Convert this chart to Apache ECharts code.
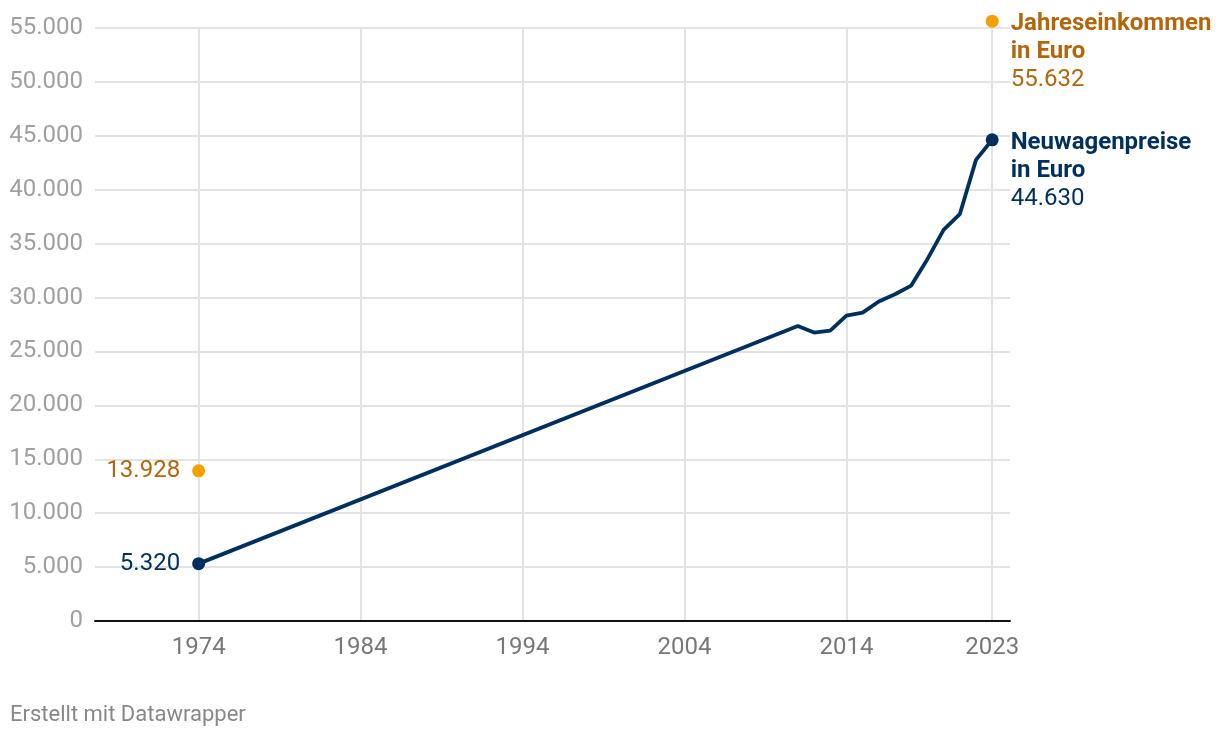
<!DOCTYPE html>
<html>
<head>
<meta charset="utf-8">
<script src="https://cdn.jsdelivr.net/npm/echarts@6/dist/echarts.min.js"></script>
<style>
html,body{margin:0;padding:0;background:#fff;}
#chart{width:1220px;height:738px;}
</style>
</head>
<body>
<div id="chart"></div>
<script>
const carYears = [1974, 2011, 2012, 2013, 2014, 2015, 2016, 2017, 2018, 2019, 2020, 2021, 2022, 2023];
const carPrices = [5320, 27370, 26750, 26940, 28330, 28600, 29630, 30310, 31110, 33560, 36280, 37730, 42770, 44630];
const incomeYears = [1974, 2023];
const incomeValues = [13928, 55632];
const xTickYears = [1974, 1984, 1994, 2004, 2014, 2023];
const carName = 'Neuwagenpreise';
const incomeName = 'Jahreseinkommen';

const NAVY = '#00305f';
const ORANGE_DOT = '#f5a000';
const ORANGE_TXT = '#b3660a';
const FONT = 'Roboto';

function fmt(v){ return String(v).replace(/\B(?=(\d{3})+(?!\d))/g, '.'); }

const chart = echarts.init(document.getElementById('chart'), null, {renderer:'canvas'});

const carData = carYears.map((y,i)=>[y, carPrices[i]]);
const incomeData = incomeYears.map((y,i)=>[y, incomeValues[i]]);

function endLabel(name, value, color){
  return {
    show: true,
    position: 'right',
    distance: 12,
    verticalAlign: 'top',
    offset: [0, -11],
    formatter: '{b|' + name + '}\n{b|in Euro}\n{n|' + fmt(value) + '}',
    rich: {
      b: {fontFamily: FONT, fontSize: 24, fontWeight: 'bold', color: color, lineHeight: 28},
      n: {fontFamily: FONT, fontSize: 24, color: color, lineHeight: 28}
    }
  };
}
function startLabel(value, color){
  return {
    show: true,
    position: 'left',
    distance: 12,
    formatter: fmt(value),
    fontFamily: FONT, fontSize: 24, color: color
  };
}

chart.setOption({
  animation: false,
  backgroundColor: '#fff',
  title: {
    text: 'Erstellt mit Datawrapper',
    left: 5, top: 699,
    textStyle: {fontFamily: FONT, fontSize: 22, fontWeight: 'normal', color: '#888'}
  },
  grid: {left: 95, right: 210, top: 28, bottom: 117, containLabel: false},
  xAxis: {
    type: 'value',
    min: 1967.6, max: 2024.1,
    axisLine: {show: true, onZero: false, lineStyle: {color: '#111', width: 2}},
    axisTick: {show: false, customValues: xTickYears},
    axisLabel: {customValues: xTickYears, formatter: v=>String(v), fontFamily: FONT, fontSize: 24, color: '#777', margin: 15},
    splitLine: {show: true, lineStyle: {color: '#e3e3e3', width: 2}}
  },
  yAxis: {
    type: 'value',
    min: 0, max: 55000, interval: 5000,
    axisLine: {show: false},
    axisTick: {show: false},
    axisLabel: {formatter: v=>fmt(v), fontFamily: FONT, fontSize: 24, color: '#a0a0a0', margin: 12},
    splitLine: {show: true, lineStyle: {color: '#e3e3e3', width: 2}}
  },
  series: [
    {
      name: carName,
      type: 'line',
      data: carData,
      symbol: 'none',
      lineStyle: {color: NAVY, width: 3.8},
      z: 3
    },
    {
      name: carName + ' Punkte',
      type: 'scatter',
      clip: false,
      symbolSize: 13,
      itemStyle: {color: NAVY, opacity: 1},
      data: [
        {value: carData[0], label: startLabel(carPrices[0], NAVY)},
        {value: carData[carData.length-1], label: endLabel(carName, carPrices[carPrices.length-1], NAVY)}
      ],
      z: 4
    },
    {
      name: incomeName,
      type: 'scatter',
      clip: false,
      symbolSize: 13,
      itemStyle: {color: ORANGE_DOT, opacity: 1},
      data: [
        {value: incomeData[0], label: startLabel(incomeValues[0], ORANGE_TXT)},
        {value: incomeData[1], label: endLabel(incomeName, incomeValues[1], ORANGE_TXT)}
      ],
      z: 4
    }
  ]
});
</script>
</body>
</html>
